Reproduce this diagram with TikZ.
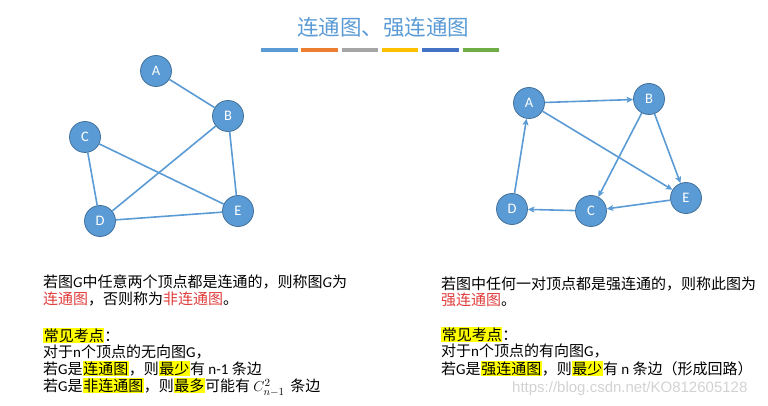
\documentclass[tikz,border=0pt]{standalone}
\usepackage{fontspec}
\setmainfont{Noto Sans CJK SC}
\newfontfamily\lat{Carlito}
\newfontfamily\webfont{Liberation Sans}
\usetikzlibrary{arrows.meta}
\definecolor{nodeblue}{HTML}{5B9BD5}
\definecolor{nodeedge}{HTML}{41719C}
\definecolor{defred}{HTML}{E03C3C}
\definecolor{hiyellow}{HTML}{FFFF00}
\definecolor{barorange}{HTML}{ED7D31}
\definecolor{bargray}{HTML}{A5A5A5}
\definecolor{bargold}{HTML}{FFC000}
\definecolor{bardark}{HTML}{4472C4}
\definecolor{bargreen}{HTML}{70AD47}
\newcommand{\hlbox}[1]{{\setlength{\fboxsep}{0.6pt}\colorbox{hiyellow}{#1}}}

\begin{document}
\begin{tikzpicture}[x=1pt, y=-1pt, vertex/.style={circle, fill=nodeblue, draw=nodeedge, line width=0.8pt, minimum size=31pt, inner sep=0pt, text=white, font=\lat\fontsize{14.5}{14.5}\selectfont}, link/.style={draw=nodeblue, line width=1.6pt}, arc/.style={link, -{Stealth[length=6.5pt, width=6pt, inset=1.5pt]}}, textline/.style={anchor=base west, inner sep=0pt, font=\fontsize{15}{17}\selectfont}, bar/.style={line width=4pt}]
\useasboundingbox (0,0) rectangle (768,406);
% title and colour bars
\node[text=nodeblue, font=\fontsize{21.5}{22}\selectfont] (title) at (383,27) {连通图、强连通图};
\foreach \c [count=\i] in {nodeblue, barorange, bargray, bargold, bardark, bargreen}
  \draw[bar, \c] ({261+40.3*(\i-1)},50) -- ++(36.5,0);
% undirected graph
\node[vertex] (lA) at (156,71) {A};
\node[vertex] (lB) at (228,116) {B};
\node[vertex] (lC) at (85,137) {C};
\node[vertex] (lD) at (100,221) {D};
\node[vertex] (lE) at (238,211) {E};
\draw[link] (lA) -- (lB);
\draw[link] (lB) -- (lE);
\draw[link] (lB) -- (lD);
\draw[link] (lC) -- (lD);
\draw[link] (lC) -- (lE);
\draw[link] (lD) -- (lE);
% directed graph
\node[vertex] (rA) at (529,103) {A};
\node[vertex] (rB) at (649,99) {B};
\node[vertex] (rC) at (591,211) {C};
\node[vertex] (rD) at (512,209) {D};
\node[vertex] (rE) at (686,198) {E};
\draw[arc] (rA) -- (rB);
\draw[arc] (rA) -- (rE);
\draw[arc] (rB) -- (rC);
\draw[arc] (rB) -- (rE);
\draw[arc] (rE) -- (rC);
\draw[arc] (rC) -- (rD);
\draw[arc] (rD) -- (rA);
% left text
\node[textline] (t1) at (43,287.5) {若图{\lat\itshape G}中任意两个顶点都是连通的，则称图{\lat\itshape G}为};
\node[textline] (t2) at (43,304) {\textcolor{defred}{连通图}，否则称为\textcolor{defred}{非连通图}。};
\node[textline] (t3) at (43,341) {\hlbox{常见考点}：};
\node[textline] (t4) at (43,357.5) {对于{\lat n}个顶点的无向图{\lat G}，};
\node[textline] (t5) at (43,374) {若{\lat G}是\hlbox{连通图}，则\hlbox{最少}有 {\lat n-1} 条边};
\node[textline] (t6) at (43,391.5) {若{\lat G}是\hlbox{非连通图}，则\hlbox{最多}可能有 $C_{n-1}^{2}$\, 条边};
% right text
\node[textline] (s1) at (441,289) {若图中任何一对顶点都是强连通的，则称此图为};
\node[textline] (s2) at (441,305.5) {\textcolor{defred}{强连通图}。};
\node[textline] (s3) at (441,340.5) {\hlbox{常见考点}：};
\node[textline] (s4) at (441,356.5) {对于{\lat n}个顶点的有向图{\lat G}，};
\node[textline] (s5) at (441,374) {若{\lat G}是\hlbox{强连通图}，则\hlbox{最少}有 {\lat n} 条边（形成回路）};
\node[anchor=base west, inner sep=0pt, text=gray!35, font=\webfont\fontsize{15}{15}\selectfont] (mark) at (512,392) {https://blog.csdn.net/KO812605128};
\end{tikzpicture}
\end{document}
